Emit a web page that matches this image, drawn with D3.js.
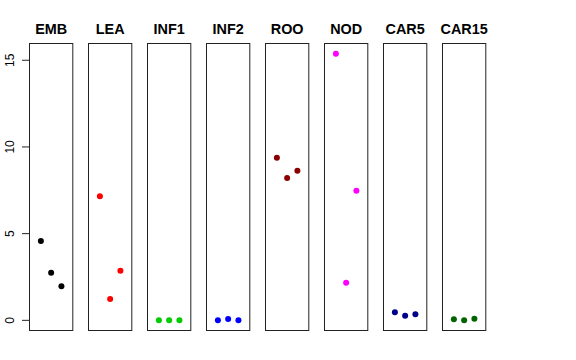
<!DOCTYPE html>
<html>
<head>
<meta charset="utf-8">
<script src="https://cdn.jsdelivr.net/npm/d3@7"></script>
<style>
  body { margin: 0; background: #fff; }
  svg { font-family: "Liberation Sans", Arial, Helvetica, sans-serif; }
</style>
</head>
<body>
<div id="chart"></div>
<script>
// tissue panels, three replicates each
const categories = ['EMB', 'LEA', 'INF1', 'INF2', 'ROO', 'NOD', 'CAR5', 'CAR15'];
const colors = ['#000000', '#FF0000', '#00CD00', '#0000FF', '#8B0000', '#FF00FF', '#00008B', '#006400'];

const emb = [4.58, 2.75, 1.96];
const lea = [7.15, 1.23, 2.86];
const inf1 = [0.01, 0.01, 0.01];
const inf2 = [0.01, 0.08, 0.01];
const roo = [9.38, 8.21, 8.63];
const nod = [15.38, 2.17, 7.48];
const car5 = [0.46, 0.27, 0.35];
const car15 = [0.06, 0.01, 0.09];
const series = [emb, lea, inf1, inf2, roo, nod, car5, car15];

const yTicks = [0, 5, 10, 15];

const width = 576;
const height = 360;
const plotTop = 43;
const plotBottom = 331;

const svg = d3.select('#chart')
  .append('svg')
  .attr('width', width)
  .attr('height', height);

const allValues = series.flat();
const yMin = d3.min(allValues.concat([0]));
const yMax = d3.max(allValues);
const pad = (yMax - yMin) * 0.04;

const y = d3.scaleLinear()
  .domain([yMin - pad, yMax + pad])
  .range([plotBottom, plotTop]);

const panelX = d3.scaleBand()
  .domain(categories)
  .range([29, 486.3])
  .paddingInner(0.249)
  .paddingOuter(0);

const innerX = d3.scaleLinear()
  .domain([-0.16, 4.16])
  .range([0, panelX.bandwidth()]);

categories.forEach((cat, i) => {
  const g = svg.append('g')
    .attr('transform', `translate(${panelX(cat)}, 0)`);

  g.append('rect')
    .attr('x', 0.5)
    .attr('y', plotTop + 0.5)
    .attr('width', panelX.bandwidth() - 1)
    .attr('height', plotBottom - plotTop - 1)
    .attr('fill', 'none')
    .attr('stroke', '#222')
    .attr('stroke-width', 1);

  g.append('text')
    .attr('x', panelX.bandwidth() / 2)
    .attr('y', 34)
    .attr('text-anchor', 'middle')
    .attr('font-weight', 'bold')
    .attr('font-size', '14.4px')
    .text(cat);

  g.selectAll('.pt')
    .data(series[i])
    .enter()
    .append('circle')
    .attr('class', 'pt')
    .attr('cx', (d, j) => innerX(j + 1))
    .attr('cy', d => y(d))
    .attr('r', 3)
    .attr('fill', colors[i]);
});

// y axis, R style
const axisG = svg.append('g')
  .attr('transform', `translate(${panelX(categories[0])}, 0)`);

axisG.append('line')
  .attr('x1', 0.5).attr('x2', 0.5)
  .attr('y1', y(yTicks[0])).attr('y2', y(yTicks[yTicks.length - 1]))
  .attr('stroke', '#222');

const tick = axisG.selectAll('.tick')
  .data(yTicks)
  .enter()
  .append('g')
  .attr('class', 'tick')
  .attr('transform', d => `translate(0, ${y(d)})`);

tick.append('line')
  .attr('x1', 0.5)
  .attr('x2', -7)
  .attr('stroke', '#222');

tick.append('text')
  .attr('transform', 'rotate(-90)')
  .attr('x', 0)
  .attr('y', -15)
  .attr('text-anchor', 'middle')
  .attr('font-size', '12px')
  .text(d => d);
</script>
</body>
</html>
